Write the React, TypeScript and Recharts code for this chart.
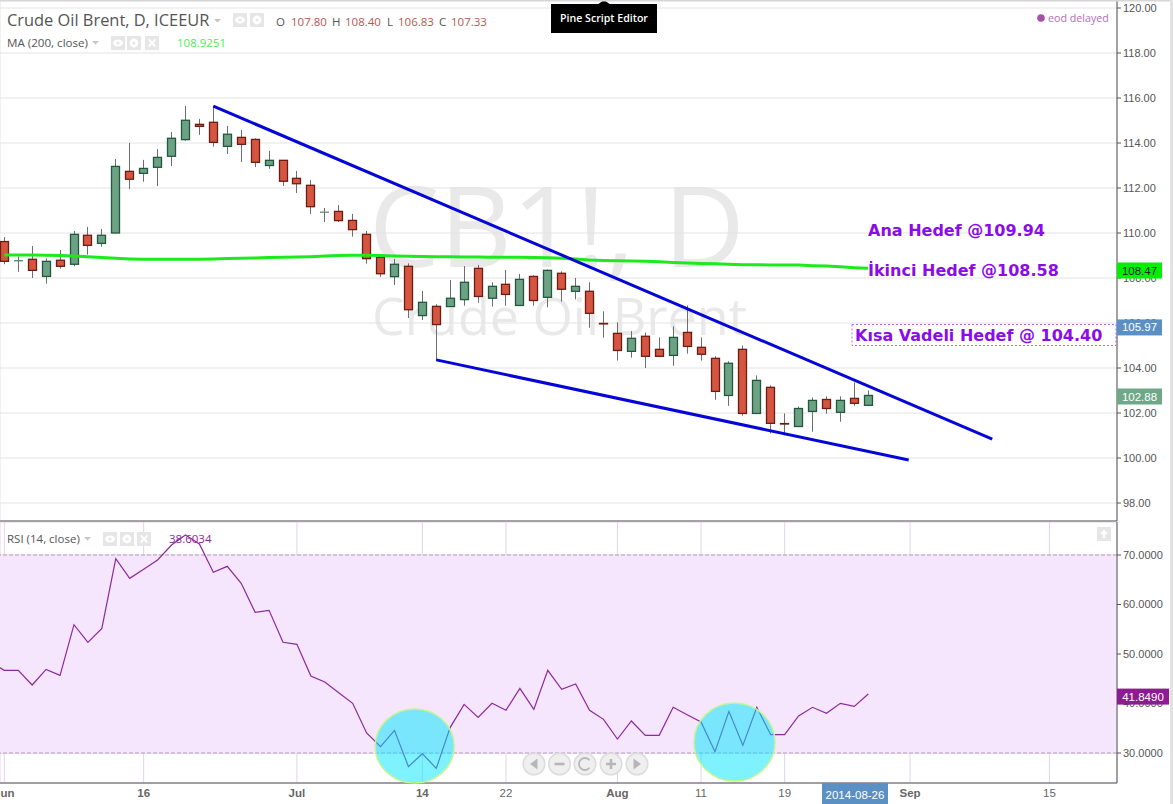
import React from 'react';
import {
  ComposedChart,
  Bar,
  Line,
  XAxis,
  YAxis,
  CartesianGrid,
  ReferenceLine,
  ReferenceArea,
  ReferenceDot,
} from 'recharts';

// Daily candles, index 0 = 2014-06-02
const opens = [
  109.62, 108.76, 108.83, 108.07, 108.79, 108.61, 109.9, 109.54, 110.0, 112.74,
  112.65, 112.92, 113.41, 114.15, 114.83, 114.92, 113.85, 114.25, 114.16, 113.0,
  113.23, 112.43, 112.12, 110.92, 110.96, 110.56, 109.94, 108.92, 108.06, 108.52,
  106.33, 106.74, 106.73, 107.04, 108.43, 107.1, 107.72, 106.78, 108.07, 107.14,
  108.21, 107.41, 107.41, 105.98, 105.54, 104.74, 105.41, 104.83, 104.56, 105.58,
  104.92, 104.43, 102.78, 104.83, 101.98, 103.14, 101.53, 101.4, 102.07, 102.6,
  102.03, 102.65, 102.34,
];
const closes = [
  108.74, 108.78, 108.34, 108.74, 108.52, 109.94, 109.45, 109.9, 112.96, 112.39,
  112.87, 113.36, 114.21, 115.01, 114.74, 114.03, 114.39, 113.94, 113.14, 113.23,
  112.3, 112.19, 111.17, 110.93, 110.55, 110.15, 108.86, 108.19, 108.61, 106.59,
  106.92, 105.93, 107.1, 107.81, 107.18, 107.63, 107.27, 107.94, 107.0, 108.34,
  107.5, 107.63, 106.43, 105.96, 104.78, 105.32, 104.52, 104.52, 105.36, 104.96,
  104.61, 102.96, 104.21, 101.98, 103.45, 101.54, 101.51, 102.2, 102.56, 102.2,
  102.56, 102.43, 102.78,
];
const highs = [
  109.82, 108.95, 109.42, 108.87, 109.25, 110.09, 110.27, 110.18, 113.29, 114.0,
  113.25, 113.73, 114.49, 115.65, 115.07, 115.65, 114.76, 114.58, 114.21, 113.65,
  113.23, 112.76, 112.36, 111.11, 111.24, 110.85, 110.09, 108.92, 108.85, 108.65,
  107.42, 106.83, 107.91, 108.53, 108.58, 107.81, 108.36, 108.18, 108.12, 108.38,
  108.3, 108.0, 107.81, 106.52, 106.03, 105.64, 105.58, 105.36, 105.85, 106.78,
  105.36, 104.52, 104.3, 105.0, 103.67, 103.23, 101.98, 102.29, 102.69, 102.74,
  102.74, 103.36, 103.0,
];
const lows = [
  108.61, 108.28, 108.0, 107.75, 108.42, 108.52, 109.04, 109.39, 109.99, 111.96,
  112.28, 112.09, 112.98, 114.1, 114.36, 113.84, 113.51, 113.16, 112.93, 112.85,
  112.09, 111.78, 110.85, 110.49, 110.49, 109.84, 108.64, 108.05, 107.69, 106.22,
  106.13, 104.33, 106.73, 106.77, 106.9, 106.73, 106.77, 106.78, 106.77, 106.7,
  106.95, 107.05, 105.79, 105.35, 104.33, 104.46, 104.0, 104.52, 104.1, 104.64,
  104.33, 102.59, 102.32, 101.88, 101.98, 101.09, 101.0, 101.4, 101.17, 101.97,
  101.61, 102.32, 102.34,
];
const ma200 = [
  109.02, 109.02, 109.02, 109.01, 109.0, 108.98, 108.95, 108.91, 108.88, 108.85,
  108.83, 108.83, 108.83, 108.83, 108.83, 108.85, 108.87, 108.88, 108.89, 108.91,
  108.92, 108.93, 108.95, 108.98, 109.0, 109.01, 109.01, 109.0, 108.98, 108.97,
  108.96, 108.95, 108.94, 108.93, 108.93, 108.92, 108.92, 108.92, 108.91, 108.9,
  108.88, 108.84, 108.8, 108.78, 108.77, 108.76, 108.75, 108.72, 108.69, 108.67,
  108.65, 108.63, 108.61, 108.59, 108.59, 108.58, 108.58, 108.58, 108.55, 108.53,
  108.5, 108.46, 108.43,
];
const rsi = [
  46.7, 46.7, 43.74, 46.9, 45.69, 55.92, 52.36, 55.18, 69.26, 65.29,
  67.1, 68.99, 72.02, 74.04, 72.22, 66.5, 67.71, 64.28, 58.42, 58.82,
  52.36, 51.95, 45.55, 44.34, 42.19, 40.03, 34.04, 31.28, 34.58, 27.24,
  29.86, 26.9, 35.19, 39.83, 37.21, 40.04, 38.62, 43.07, 38.82, 46.7,
  42.86, 43.94, 38.62, 36.8, 32.83, 36.47, 33.57, 33.57, 39.23, 37.74,
  36.27, 30.27, 38.42, 31.55, 39.23, 33.7, 33.7, 37.48, 39.23, 38.02,
  40.04, 39.43, 41.92,
];

const timeTicks = [0, 10, 21, 30, 36, 44, 50, 56, 65, 75];
const timeLabels = ['Jun', '16', 'Jul', '14', '22', 'Aug', '11', '19', 'Sep', '15'];
const boldLabels = ['Jun', 'Jul', 'Aug', 'Sep', '16', '14'];
const priceTicks = [98, 100, 102, 104, 106, 108, 110, 112, 114, 116, 118, 120];
const rsiTicks = [30, 40, 50, 60, 70];

const candles = opens.map((open, i) => ({
  i,
  open,
  close: closes[i],
  range: [lows[i], highs[i]],
  ma: ma200[i],
}));
const rsiData = [{ i: -1, rsi: 48.4 }, ...rsi.map((v, i) => ({ i, rsi: v }))];

// the pair of wedge lines, in bar index / price
const upperTrend = [{ x: 15, y: 115.64 }, { x: 70.9, y: 100.84 }];
const lowerTrend = [{ x: 31, y: 104.36 }, { x: 64.9, y: 99.91 }];

const timeDomain = [-0.3086, 79.85];
const priceDomain = [97.2, 120.356];
const rsiDomain = [23.94, 76.67];
const sans = '"Open Sans", sans-serif';
const axisFont = '"Liberation Sans", Arial, sans-serif';
const noteFont = '"DejaVu Sans", sans-serif';

function Candle(props: any) {
  const { x, y, width, height, payload } = props;
  const hi = payload.range[1];
  const lo = payload.range[0];
  const px = (v: number) => y + ((hi - v) / (hi - lo)) * height;
  const up = payload.close >= payload.open;
  const top = px(Math.max(payload.open, payload.close));
  const bottom = px(Math.min(payload.open, payload.close));
  const mid = Math.floor(x + width / 2) + 0.5;
  const doji = bottom - top < 1;
  return (
    <g>
      <line x1={mid} x2={mid} y1={y} y2={y + height} stroke="#6d6d6d" strokeWidth={1} />
      <rect
        x={mid - 4}
        y={top}
        width={8}
        height={bottom - top}
        fill={up ? '#6aa283' : '#d65540'}
        stroke={doji ? (up ? '#5c8c76' : '#6a1d14') : up ? '#24573f' : '#6a1d14'}
        strokeWidth={doji && up ? 1 : 1.3}
      />
    </g>
  );
}

function PriceTag({ viewBox, text, fill, color, wide }: any) {
  const y = viewBox.y + 1;
  const w = wide ? 52 : 45;
  return (
    <g>
      <rect x={1117} y={y - 7.5} width={w} height={16} fill={fill} />
      <text x={1117 + w / 2} y={y + 4.5} textAnchor="middle" fontFamily={axisFont} fontSize={11.5} fill={color}>
        {text}
      </text>
    </g>
  );
}

function Halo({ cx, cy, rx, ry }: any) {
  return <ellipse cx={cx} cy={cy} rx={rx} ry={ry} fill="#00e5ff" fillOpacity={0.5} stroke="#c5f58e" strokeWidth={1.5} />;
}

function XTick({ x, y, payload }: any) {
  const label = timeLabels[timeTicks.indexOf(payload.value)];
  return (
    <text
      x={x}
      y={y + 6}
      textAnchor="middle"
      fontFamily={axisFont}
      fontSize={11.5}
      fontWeight={boldLabels.includes(label) ? 'bold' : 'normal'}
      fill="#666"
    >
      {label}
    </text>
  );
}

function IconBox({ x, y, kind }: { x: number; y: number; kind: string }) {
  return (
    <g>
      <rect x={x} y={y} width={14} height={14} fill="#e6e6e6" />
      {kind === 'eye' && (
        <g>
          <ellipse cx={x + 7} cy={y + 7} rx={5} ry={3.6} fill="#fff" />
          <circle cx={x + 7} cy={y + 7} r={1.6} fill="#e6e6e6" />
        </g>
      )}
      {kind === 'gear' && (
        <g>
          <circle cx={x + 7} cy={y + 7} r={4.4} fill="#fff" />
          <circle cx={x + 7} cy={y + 7} r={1.5} fill="#e6e6e6" />
        </g>
      )}
      {kind === 'close' && (
        <path
          d={`M${x + 3.5} ${y + 3.5}L${x + 10.5} ${y + 10.5}M${x + 10.5} ${y + 3.5}L${x + 3.5} ${y + 10.5}`}
          stroke="#fff"
          strokeWidth={1.8}
        />
      )}
      {kind === 'up' && <path d={`M${x + 7} ${y + 2.5}L${x + 11} ${y + 7}H${x + 8.3}V${y + 11}H${x + 5.7}V${y + 7}H${x + 3}Z`} fill="#fff" />}
    </g>
  );
}

function Caret({ x, y }: { x: number; y: number }) {
  return <path d={`M${x} ${y}h7l-3.5 3.5z`} fill="#c4c4c4" />;
}

function NavButton({ x, glyph }: { x: number; glyph: string }) {
  const y = 764;
  return (
    <g opacity={0.95}>
      <circle cx={x} cy={y} r={10.8} fill="#efefef" stroke="#dcdcdc" strokeWidth={1.6} />
      {glyph === 'left' && <path d={`M${x + 3.5} ${y - 5.5}V${y + 5.5}L${x - 4} ${y}Z`} fill="#b4b4b4" />}
      {glyph === 'right' && <path d={`M${x - 3.5} ${y - 5.5}V${y + 5.5}L${x + 4} ${y}Z`} fill="#b4b4b4" />}
      {glyph === 'minus' && <rect x={x - 5} y={y - 1.3} width={10} height={2.6} fill="#b4b4b4" />}
      {glyph === 'plus' && <path d={`M${x - 5} ${y}H${x + 5}M${x} ${y - 5}V${y + 5}`} stroke="#b4b4b4" strokeWidth={2.6} />}
      {glyph === 'reset' && (
        <path d={`M${x + 4.6} ${y - 3.8}A6 6 0 1 0 ${x + 4.6} ${y + 3.8}`} fill="none" stroke="#b4b4b4" strokeWidth={1.8} />
      )}
    </g>
  );
}

const ohlc: [string, string, number, number][] = [
  ['O', '107.80', 276, 291],
  ['H', '108.40', 332, 345],
  ['L', '106.83', 387, 398],
  ['C', '107.33', 439, 451],
];

function Overlay() {
  return (
    <svg width={1173} height={804} style={{ position: 'absolute', left: 0, top: 0, pointerEvents: 'none' }}>
      <text x={7} y={26} fontFamily={sans} fontSize={16.4} fill="#555">Crude Oil Brent, D, ICEEUR</text>
      <Caret x={214} y={19} />
      <IconBox x={233} y={13} kind="eye" />
      <IconBox x={250} y={13} kind="gear" />
      {ohlc.map(([k, v, kx, vx]) => (
        <g key={k}>
          <text x={kx} y={26} fontFamily={sans} fontSize={11.5} fill="#555">{k}</text>
          <text x={vx} y={26} fontFamily={sans} fontSize={11.5} fill="#b8574f">{v}</text>
        </g>
      ))}

      <text x={7} y={47} fontFamily={sans} fontSize={11.6} fill="#555">MA (200, close)</text>
      <Caret x={92} y={41} />
      <IconBox x={111} y={36} kind="eye" />
      <IconBox x={127} y={36} kind="gear" />
      <IconBox x={145} y={36} kind="close" />
      <text x={177} y={47} fontFamily={sans} fontSize={11.5} fill="#55e855">108.9251</text>

      <text x={7} y={543} fontFamily={sans} fontSize={11.5} fill="#555">RSI (14, close)</text>
      <Caret x={84} y={537} />
      <IconBox x={103} y={532} kind="eye" />
      <IconBox x={120} y={532} kind="gear" />
      <IconBox x={137} y={532} kind="close" />
      <text x={169} y={543} fontFamily={sans} fontSize={11.5} fill="#8a2a9a">38.6034</text>
      <IconBox x={1097} y={527} kind="up" />

      <path d="M597 5L604 0L611 5Z" fill="#000" />
      <rect x={551} y={4} width={106} height={29} fill="#000" />
      <text x={604} y={22} textAnchor="middle" fontFamily={sans} fontSize={10.6} fontWeight={600} fill="#fff">Pine Script Editor</text>

      <circle cx={1041} cy={18} r={3.8} fill="#a64fa8" />
      <text x={1048} y={22} fontFamily={sans} fontSize={10.7} fill="#b26db8">eod delayed</text>

      <text x={868} y={236} fontFamily={noteFont} fontWeight="bold" fontSize={16} fill="#8a0ce6">Ana Hedef @109.94</text>
      <text x={868} y={276} fontFamily={noteFont} fontWeight="bold" fontSize={16} fill="#8a0ce6">İkinci Hedef @108.58</text>
      <rect x={852} y={324.5} width={264} height={21} fill="none" stroke="#b36be0" strokeDasharray="2 2" />
      <text x={855} y={341} fontFamily={noteFont} fontWeight="bold" fontSize={16} fill="#8a0ce6">Kısa Vadeli Hedef @ 104.40</text>

      <NavButton x={534} glyph="left" />
      <NavButton x={559.5} glyph="minus" />
      <NavButton x={585} glyph="reset" />
      <NavButton x={611} glyph="plus" />
      <NavButton x={637} glyph="right" />

      <rect x={822} y={783} width={66} height={21} fill="#5b90c4" />
      <text x={855} y={799} textAnchor="middle" fontFamily={axisFont} fontSize={11.5} fill="#fff">2014-08-26</text>

      <rect x={0} y={0} width={1173} height={1.5} fill="#d6d6d6" />
      <rect x={1170} y={0} width={3} height={804} fill="#e2e2e2" />
    </svg>
  );
}

// transparent chart above the axes, so value tags cover the tick labels
function TagLayer({ top, height, bottom, domain, children }: any) {
  return (
    <div style={{ position: 'absolute', left: 0, top }}>
      <ComposedChart width={1173} height={height} data={candles} margin={{ top: 0, right: 0, bottom: 0, left: 0 }}>
        <XAxis dataKey="i" type="number" domain={timeDomain} height={bottom} tick={false} axisLine={false} tickLine={false} allowDataOverflow />
        <YAxis orientation="right" width={56} type="number" domain={domain} tick={false} axisLine={false} tickLine={false} allowDataOverflow />
        {children}
      </ComposedChart>
    </div>
  );
}

export default function App() {
  const yTick = { fontFamily: axisFont, fontSize: 11, fill: '#555' };
  return (
    <div style={{ position: 'absolute', left: 0, top: 0, width: 1173, height: 804, background: '#fff', overflow: 'hidden' }}>
      {/* symbol watermark sits behind the transparent chart */}
      <svg width={1173} height={522} style={{ position: 'absolute', left: 0, top: 0 }}>
        <text x={369} y={267} fontFamily={sans} fontSize={112} fill="#e9e9e9">CB1!, D</text>
        <text x={372} y={335} fontFamily={sans} fontSize={52} fill="#e9e9e9">Crude Oil Brent</text>
      </svg>

      <div style={{ position: 'absolute', left: 0, top: 0 }}>
        <ComposedChart width={1173} height={522} data={candles} margin={{ top: 0, right: 0, bottom: 0, left: 0 }}>
          <CartesianGrid stroke="#e3e3e3" />
          <XAxis dataKey="i" type="number" domain={timeDomain} ticks={timeTicks} allowDataOverflow height={1} tick={false} axisLine={{ stroke: '#555' }} tickLine={false} />
          <YAxis
            orientation="right"
            width={56}
            type="number"
            domain={priceDomain}
            ticks={priceTicks}
            tick={yTick}
            tickFormatter={(v: number) => v.toFixed(2)}
            tickSize={4}
            tickMargin={2}
            stroke="#555"
            allowDataOverflow
          />
          <Line dataKey="ma" stroke="#1cea1c" strokeWidth={3} dot={false} activeDot={false} isAnimationActive={false} />
          <Bar dataKey="range" barSize={8} shape={Candle} isAnimationActive={false} />
          <ReferenceLine segment={upperTrend} stroke="#0505d8" strokeWidth={3} />
          <ReferenceLine segment={lowerTrend} stroke="#0505d8" strokeWidth={3} />
        </ComposedChart>
      </div>
      <TagLayer top={0} height={522} bottom={1} domain={priceDomain}>
        <ReferenceLine y={108.4} stroke="none" label={<PriceTag text="108.47" fill="#00f000" color="#222" />} />
        <ReferenceLine y={105.87} stroke="none" label={<PriceTag text="105.97" fill="#5b90c4" color="#fff" />} />
        <ReferenceLine y={102.8} stroke="none" label={<PriceTag text="102.88" fill="#6fa888" color="#fff" />} />
      </TagLayer>

      <div style={{ position: 'absolute', left: 0, top: 522 }}>
        <ComposedChart width={1173} height={282} data={rsiData} margin={{ top: 0, right: 0, bottom: 0, left: 0 }}>
          <ReferenceArea y1={30} y2={70} fill="#f5e6fd" fillOpacity={1} stroke="none" />
          <CartesianGrid stroke="#e0d4e6" />
          <XAxis
            dataKey="i"
            type="number"
            domain={timeDomain}
            ticks={timeTicks}
            allowDataOverflow
            height={21}
            interval={0}
            tick={<XTick />}
            tickLine={false}
            stroke="#555"
          />
          <YAxis
            orientation="right"
            width={56}
            type="number"
            domain={rsiDomain}
            ticks={rsiTicks}
            tick={yTick}
            tickFormatter={(v: number) => v.toFixed(4)}
            tickSize={4}
            tickMargin={2}
            stroke="#555"
            allowDataOverflow
          />
          <ReferenceDot x={29.45} y={31.4} shape={<Halo rx={39.5} ry={37} />} />
          <ReferenceDot x={52.4} y={32.2} shape={<Halo rx={40.5} ry={39} />} />
          <ReferenceLine y={70} stroke="#b79ab9" strokeDasharray="4 2" />
          <ReferenceLine y={30} stroke="#b79ab9" strokeDasharray="4 2" />
          <Line dataKey="rsi" stroke="#8a2a9a" strokeWidth={1.2} dot={false} activeDot={false} isAnimationActive={false} />
        </ComposedChart>
      </div>
      <TagLayer top={522} height={282} bottom={21} domain={rsiDomain}>
        <ReferenceLine y={41.7} stroke="none" label={<PriceTag text="41.8490" fill="#8e1b92" color="#fff" wide />} />
      </TagLayer>

      <Overlay />
    </div>
  );
}
